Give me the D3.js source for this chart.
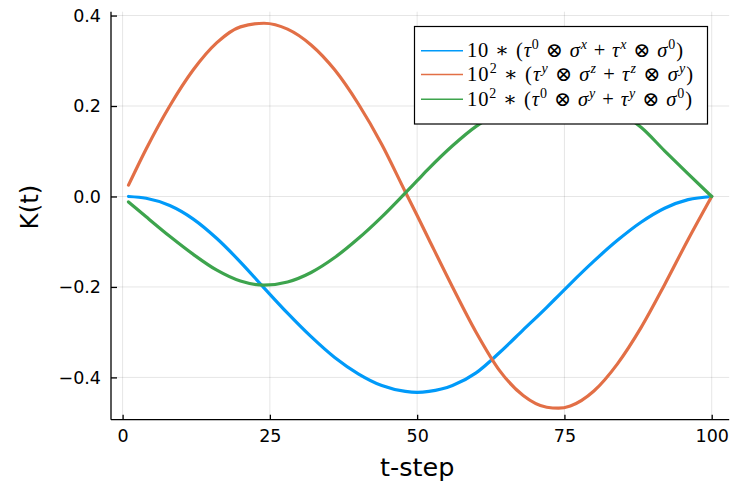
<!DOCTYPE html>
<html>
<head>
<meta charset="utf-8">
<script src="https://cdn.jsdelivr.net/npm/d3@7"></script>
<style>
  html, body { margin: 0; padding: 0; background: #fff; }
  svg { display: block; }
</style>
</head>
<body>
<svg id="chart" width="730" height="484"></svg>
<script>
// Sampled time steps shared by all three series
const tSteps = [1, 4, 8, 12, 16, 20, 24, 28, 32, 36, 40, 44, 48, 50, 52, 56, 60, 64, 68, 72, 74, 76, 80, 84, 88, 92, 96, 100];

// K(t) components (already scaled as stated in the legend)
const blueVals = [0, -0.004, -0.020, -0.050, -0.093, -0.145, -0.202, -0.258, -0.310, -0.356, -0.392, -0.418, -0.431, -0.433, -0.431, -0.418, -0.390, -0.345, -0.295, -0.245, -0.219, -0.193, -0.143, -0.097, -0.057, -0.026, -0.007, 0];
const orangeVals = [0.025, 0.105, 0.200, 0.280, 0.340, 0.375, 0.383, 0.370, 0.335, 0.280, 0.205, 0.115, 0.010, -0.042, -0.095, -0.200, -0.300, -0.385, -0.440, -0.466, -0.468, -0.463, -0.430, -0.370, -0.290, -0.195, -0.095, 0.0];
const greenVals = [-0.012, -0.045, -0.088, -0.128, -0.163, -0.187, -0.196, -0.189, -0.168, -0.135, -0.093, -0.045, 0.008, 0.035, 0.062, 0.112, 0.155, 0.185, 0.198, 0.203, 0.205, 0.207, 0.203, 0.188, 0.153, 0.101, 0.050, 0.0];

const xTicks = [0, 25, 50, 75, 100];
const yTicks = [-0.4, -0.2, 0.0, 0.2, 0.4];

const xLabel = "t-step";
const yLabel = "K(t)";

// Legend entries: each label is a list of [text, kind] pieces
// kind: "n" normal, "i" italic, "sup" superscript normal, "supi" superscript italic
const legendLabels = [
  [["10 ∗ (", "n"], ["τ", "i"], ["0", "sup"], [" ⊗ ", "n"], ["σ", "i"], ["x", "supi"], [" + ", "n"], ["τ", "i"], ["x", "supi"], [" ⊗ ", "n"], ["σ", "i"], ["0", "sup"], [")", "n"]],
  [["10", "n"], ["2", "sup"], [" ∗ (", "n"], ["τ", "i"], ["y", "supi"], [" ⊗ ", "n"], ["σ", "i"], ["z", "supi"], [" + ", "n"], ["τ", "i"], ["z", "supi"], [" ⊗ ", "n"], ["σ", "i"], ["y", "supi"], [")", "n"]],
  [["10", "n"], ["2", "sup"], [" ∗ (", "n"], ["τ", "i"], ["0", "sup"], [" ⊗ ", "n"], ["σ", "i"], ["y", "supi"], [" + ", "n"], ["τ", "i"], ["y", "supi"], [" ⊗ ", "n"], ["σ", "i"], ["0", "sup"], [")", "n"]]
];
const legendWidths = [216, 226, 225];
const seriesColors = ["#009af9", "#e26f46", "#3da44d"];

const series = [blueVals, orangeVals, greenVals].map((vals, i) => ({
  color: seriesColors[i],
  points: tSteps.map((t, j) => ({ t, v: vals[j] }))
}));

const svg = d3.select("#chart");
const plot = { left: 111, right: 729.2, top: 11.7, bottom: 419.7 };

const x = d3.scaleLinear().domain([-1.97, 102.97]).range([plot.left, plot.right]);
const y = d3.scaleLinear().domain([-0.4935, 0.4085]).range([plot.bottom, plot.top]);

const sansFont = "DejaVu Sans, sans-serif";

// Grid
const grid = svg.append("g").attr("stroke", "#000").attr("stroke-opacity", 0.1).attr("stroke-width", 1);
grid.selectAll("line.gx").data(xTicks).join("line")
  .attr("x1", d => x(d)).attr("x2", d => x(d))
  .attr("y1", plot.top).attr("y2", plot.bottom);
grid.selectAll("line.gy").data(yTicks).join("line")
  .attr("x1", plot.left).attr("x2", plot.right)
  .attr("y1", d => y(d)).attr("y2", d => y(d));

// Axes with inward ticks
const fmt = d3.format(".1f");
const xAxis = svg.append("g")
  .attr("transform", `translate(0,${plot.bottom})`)
  .call(d3.axisBottom(x).tickValues(xTicks).tickSize(-5).tickSizeOuter(0).tickPadding(16).tickFormat(d3.format("d")));
const yAxis = svg.append("g")
  .attr("transform", `translate(${plot.left},0)`)
  .call(d3.axisLeft(y).tickValues(yTicks).tickSize(-6).tickSizeOuter(0).tickPadding(16).tickFormat(fmt));

[xAxis, yAxis].forEach(a => {
  a.select(".domain").attr("stroke", "#000").attr("stroke-width", 1.3);
  a.selectAll(".tick line").attr("stroke", "#000").attr("stroke-width", 1.3);
  a.selectAll(".tick text").attr("font-family", sansFont).attr("font-size", 17.5).attr("fill", "#000");
});
xAxis.select(".domain").attr("d", `M${plot.left},0H${plot.right}`);
yAxis.select(".domain").attr("d", `M0,${plot.top}V${plot.bottom}`);
xAxis.selectAll(".tick text").attr("dy", "0.71em").attr("y", 10);
yAxis.selectAll(".tick text").attr("x", -10);

// Series lines
const line = d3.line().x(d => x(d.t)).y(d => y(d.v)).curve(d3.curveMonotoneX);
svg.append("g").selectAll("path").data(series).join("path")
  .attr("d", d => line(d.points))
  .attr("fill", "none")
  .attr("stroke", d => d.color)
  .attr("stroke-width", 3.2)
  .attr("stroke-linejoin", "round")
  .attr("stroke-linecap", "round");

// Axis titles
svg.append("text")
  .attr("x", (x(0) + x(100)) / 2).attr("y", 476)
  .attr("text-anchor", "middle")
  .attr("font-family", sansFont).attr("font-size", 25.5)
  .text(xLabel);
svg.append("text")
  .attr("transform", `translate(38,207) rotate(-90)`)
  .attr("text-anchor", "middle")
  .attr("font-family", sansFont).attr("font-size", 24.5)
  .text(yLabel);

// Legend
const legend = svg.append("g");
legend.append("rect")
  .attr("x", 414.5).attr("y", 26.5).attr("width", 293).attr("height", 97.5)
  .attr("fill", "#fff").attr("stroke", "#000").attr("stroke-width", 1.2);

const rowY = [50.7, 74.5, 99.3];
const serifFont = "Liberation Serif, DejaVu Serif, serif";
legendLabels.forEach((label, i) => {
  legend.append("line")
    .attr("x1", 421).attr("x2", 463)
    .attr("y1", rowY[i]).attr("y2", rowY[i])
    .attr("stroke", seriesColors[i]).attr("stroke-width", 1.6);
  const txt = legend.append("text")
    .attr("x", 467).attr("y", rowY[i] + 6.5)
    .attr("font-family", serifFont).attr("font-size", 20.5).attr("fill", "#000")
    .attr("textLength", legendWidths[i]).attr("lengthAdjust", "spacing");
  label.forEach(([s, kind], k) => {
    const isSup = kind === "sup" || kind === "supi";
    const prev = k > 0 ? label[k - 1][1] : "n";
    const prevSup = prev === "sup" || prev === "supi";
    const sp = txt.append("tspan").text(s).attr("xml:space", "preserve");
    if (kind === "i" || kind === "supi") sp.attr("font-style", "italic");
    if (isSup) sp.attr("font-size", 14);
    // shift the baseline up for superscripts and back down afterwards
    if (isSup && !prevSup) sp.attr("dy", -8);
    else if (!isSup && prevSup) sp.attr("dy", 8);
  });
});
</script>
</body>
</html>
